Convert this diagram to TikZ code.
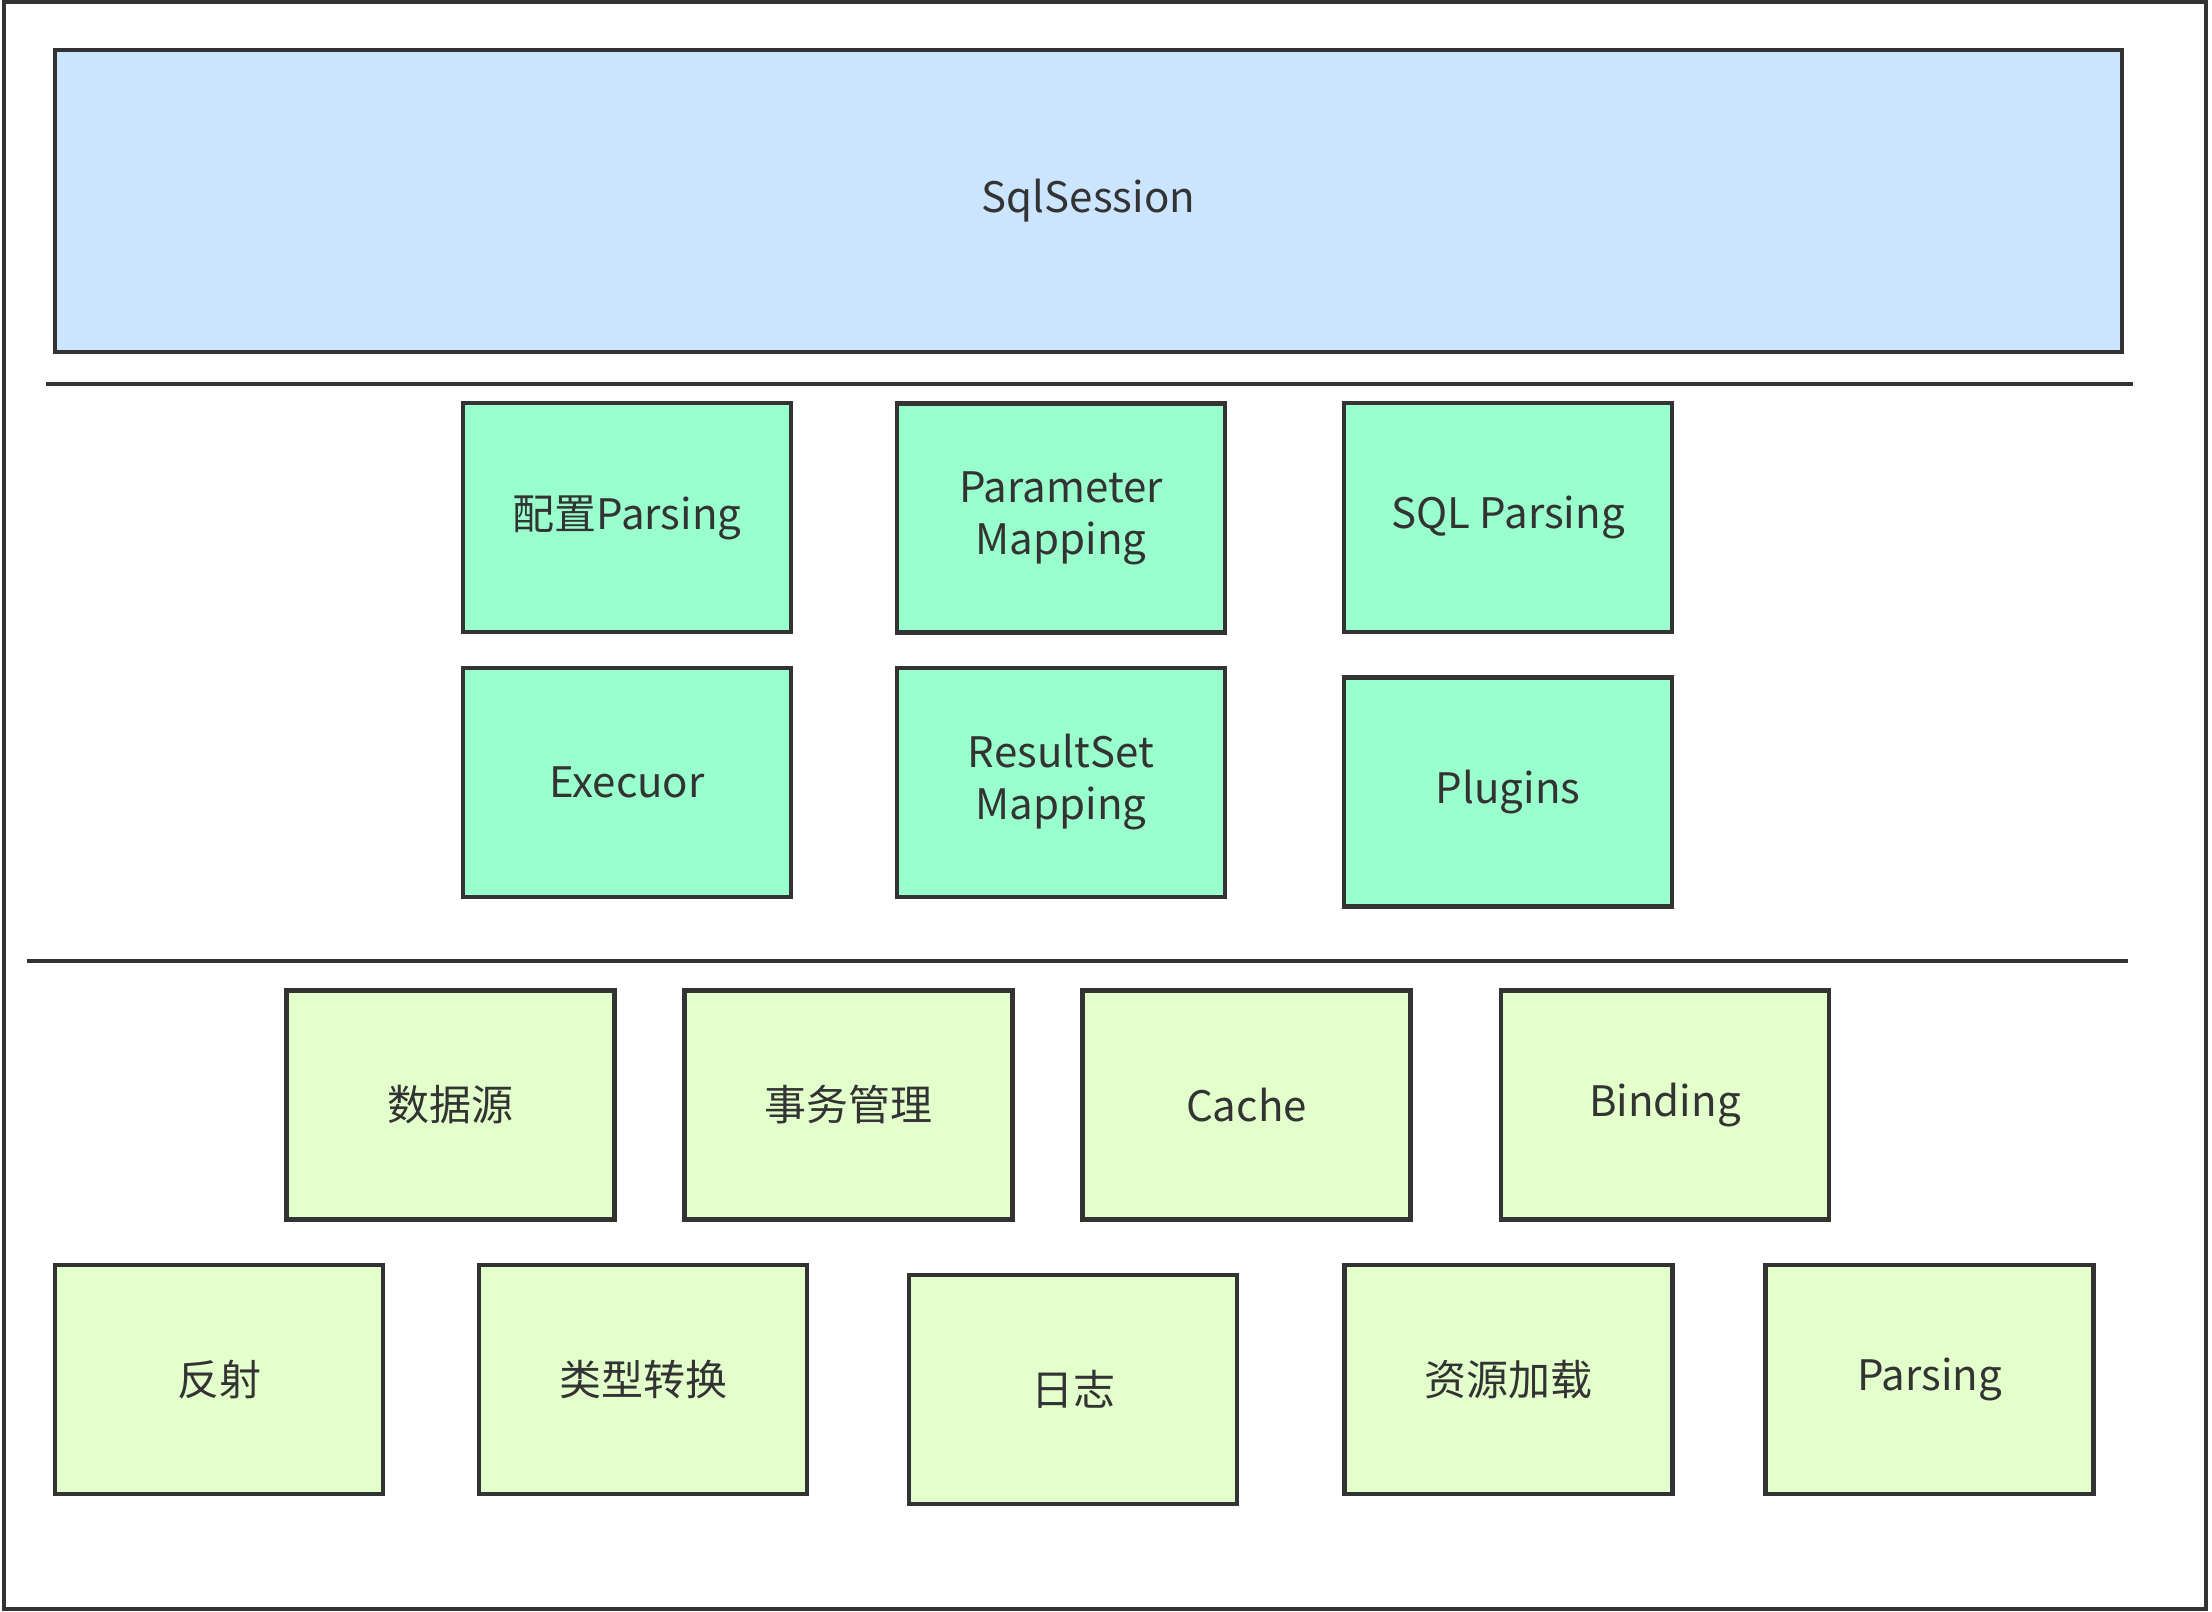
\documentclass[tikz,border=0pt]{standalone}
\usepackage{fontspec}
\newfontfamily\cjk{Noto Sans CJK SC}
\definecolor{edge}{HTML}{333333}
\definecolor{txt}{HTML}{333333}
\definecolor{topfill}{HTML}{CCE5FF}
\definecolor{midfill}{HTML}{99FFCC}
\definecolor{lowfill}{HTML}{E3FFCC}
\begin{document}
\begin{tikzpicture}[x=1pt,y=-1pt,
  box/.style={draw=edge, line width=4.5pt, rectangle, inner sep=0pt,
    minimum width=328pt, minimum height=229pt, align=center,
    text=txt, font=\cjk\fontsize{42}{52}\selectfont},
  topbox/.style={box, fill=topfill, minimum width=2067pt, minimum height=302pt},
  midbox/.style={box, fill=midfill},
  lowbox/.style={box, fill=lowfill},
  sepline/.style={draw=edge, line width=4.5pt}]
\useasboundingbox (0,0) rectangle (2212,1612);
\fill[white] (0,0) rectangle (2212,1612);
\draw[edge, line width=3.5pt] (4,2) rectangle (2206,1609);

\node[topbox] (sql) at (1088.5,201) {SqlSession};

\coordinate (s1a) at (46,384);
\coordinate (s1b) at (2133,384);
\draw[sepline] (s1a) -- (s1b);

\node[midbox] (cfg) at (627,517.5) {配置Parsing};
\node[midbox] (pm) at (1061,518) {Parameter\\Mapping};
\node[midbox] (sqlp) at (1508,517.5) {SQL Parsing};
\node[midbox] (exe) at (627,782.5) {Execuor};
\node[midbox] (rsm) at (1061,782.5) {ResultSet\\Mapping};
\node[midbox] (plg) at (1508,792) {Plugins};

\coordinate (s2a) at (27,961);
\coordinate (s2b) at (2128,961);
\draw[sepline] (s2a) -- (s2b);

\node[lowbox] (ds) at (450.5,1105) {数据源};
\node[lowbox] (tx) at (848.5,1105) {事务管理};
\node[lowbox] (cache) at (1246.5,1105) {Cache};
\node[lowbox] (bind) at (1665,1105) {Binding};

\node[lowbox] (refl) at (219,1379.5) {反射};
\node[lowbox] (conv) at (643,1379.5) {类型转换};
\node[lowbox] (log) at (1073,1389.5) {日志};
\node[lowbox] (res) at (1508.5,1379.5) {资源加载};
\node[lowbox] (pars) at (1929.5,1379.5) {Parsing};
\end{tikzpicture}
\end{document}
